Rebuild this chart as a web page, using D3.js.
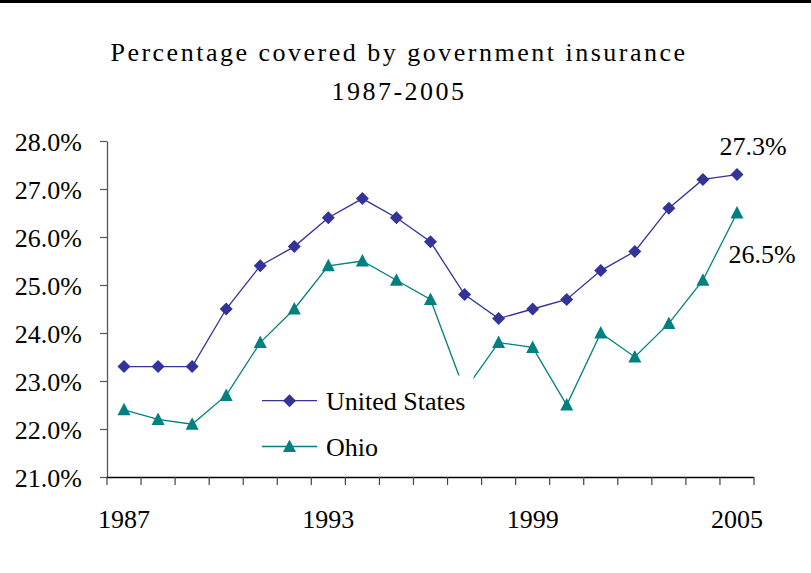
<!DOCTYPE html>
<html>
<head>
<meta charset="utf-8">
<script src="https://cdn.jsdelivr.net/npm/d3@7"></script>
<style>
  html, body { margin: 0; padding: 0; background: #fff; }
  svg { display: block; }
  text { font-family: "Liberation Serif", "Times New Roman", serif; fill: #000; }
</style>
</head>
<body>
<svg id="chart" width="811" height="573"></svg>
<script>
const years = [1987,1988,1989,1990,1991,1992,1993,1994,1995,1996,1997,1998,1999,2000,2001,2002,2003,2004,2005];
const unitedStates = [23.3,23.3,23.3,24.5,25.4,25.8,26.4,26.8,26.4,25.9,24.8,24.3,24.5,24.7,25.3,25.7,26.6,27.2,27.3];
const ohio = [22.4,22.2,22.1,22.7,23.8,24.5,25.4,25.5,25.1,24.7,22.8,23.8,23.7,22.5,24.0,23.5,24.2,25.1,26.5];
const yTicks = [21,22,23,24,25,26,27,28];
const xLabelYears = [1987,1993,1999,2005];
const seriesNames = ["United States","Ohio"];
const titleLines = ["Percentage covered by government insurance","1987-2005"];

const svg = d3.select("#chart");
const W = 811, H = 573;
const plot = {left: 107, right: 754, top: 141, bottom: 477};

// top border
svg.append("rect").attr("x",0).attr("y",0).attr("width",W).attr("height",3).attr("fill","#000");

// title
svg.selectAll("text.title").data(titleLines).join("text")
  .attr("class","title")
  .attr("x", 399).attr("y",(d,i)=> i===0 ? 61 : 99.5)
  .attr("text-anchor","middle")
  .style("font-size","26px")
  .style("letter-spacing","2.5px")
  .text(d=>d);

const x = d3.scaleBand().domain(years).range([plot.left, plot.right]).padding(0);
const y = d3.scaleLinear().domain([21,28]).range([plot.bottom, plot.top]);
const cx = d => x(d) + x.bandwidth()/2;

// y axis
const yAxis = svg.append("g").attr("transform",`translate(${plot.left},0)`)
  .call(d3.axisLeft(y).tickValues(yTicks).tickFormat(d=>d.toFixed(1)+"%").tickSize(7).tickPadding(18).tickSizeOuter(0));
yAxis.select(".domain").attr("stroke","#555").attr("stroke-width",1.3);
yAxis.selectAll(".tick line").attr("stroke","#555").attr("stroke-width",1.2);
yAxis.selectAll("text").style("font-size","26px").attr("dy","0.37em")
  .style("font-family","'Liberation Serif', serif").attr("fill","#000");

// x axis
const xg = svg.append("g");
xg.append("line").attr("x1",plot.left).attr("x2",plot.right).attr("y1",plot.bottom+0.5).attr("y2",plot.bottom+0.5)
  .attr("stroke","#000").attr("stroke-width",1.5);
const edges = years.map(d=>x(d)).concat([x.range()[1]]);
xg.selectAll("line.tk").data(edges).join("line").attr("class","tk")
  .attr("x1",d=>d).attr("x2",d=>d).attr("y1",plot.bottom).attr("y2",plot.bottom+8)
  .attr("stroke","#444").attr("stroke-width",1.2);
xg.selectAll("text").data(xLabelYears).join("text")
  .attr("x",d=>cx(d)).attr("y",528).attr("text-anchor","middle")
  .style("font-size","26px").text(d=>d);

const colors = ["#333399","#008080"];
const line = d3.line().x((d,i)=>cx(years[i])).y(d=>y(d));

function diamond(g, px, py, c){
  g.append("path").attr("d",`M${px},${py-6.5}L${px+6.5},${py}L${px},${py+6.5}L${px-6.5},${py}Z`).attr("fill",c);
}
function triangle(g, px, py, c){
  g.append("path").attr("d",`M${px},${py-7}L${px+6.5},${py+5.5}L${px-6.5},${py+5.5}Z`).attr("fill",c);
}

const gUS = svg.append("g");
gUS.append("path").datum(unitedStates).attr("d",line).attr("fill","none").attr("stroke",colors[0]).attr("stroke-width",1.3);
unitedStates.forEach((v,i)=>diamond(gUS, cx(years[i]), y(v), colors[0]));

const gOH = svg.append("g");
gOH.append("path").datum(ohio).attr("d",line).attr("fill","none").attr("stroke",colors[1]).attr("stroke-width",1.3);
ohio.forEach((v,i)=>triangle(gOH, cx(years[i]), y(v), colors[1]));

// data labels
svg.append("text").attr("x",753).attr("y",155).attr("text-anchor","middle").style("font-size","26px")
  .text(unitedStates[unitedStates.length-1].toFixed(1)+"%");
svg.append("text").attr("x",762).attr("y",263).attr("text-anchor","middle").style("font-size","26px")
  .text(ohio[ohio.length-1].toFixed(1)+"%");

// legend (white box)
const lg = svg.append("g");
lg.append("rect").attr("x",255).attr("y",375.5).attr("width",218.5).attr("height",94).attr("fill","#fff");
const legendY = [400.7, 446.5];
seriesNames.forEach((n,i)=>{
  lg.append("line").attr("x1",262).attr("x2",317).attr("y1",legendY[i]).attr("y2",legendY[i])
    .attr("stroke",colors[i]).attr("stroke-width",1.3);
  if(i===0) diamond(lg, 289.5, legendY[i], colors[i]); else triangle(lg, 289.5, legendY[i], colors[i]);
  lg.append("text").attr("x",326).attr("y",legendY[i]+9).style("font-size","26px").text(n);
});
</script>
</body>
</html>
